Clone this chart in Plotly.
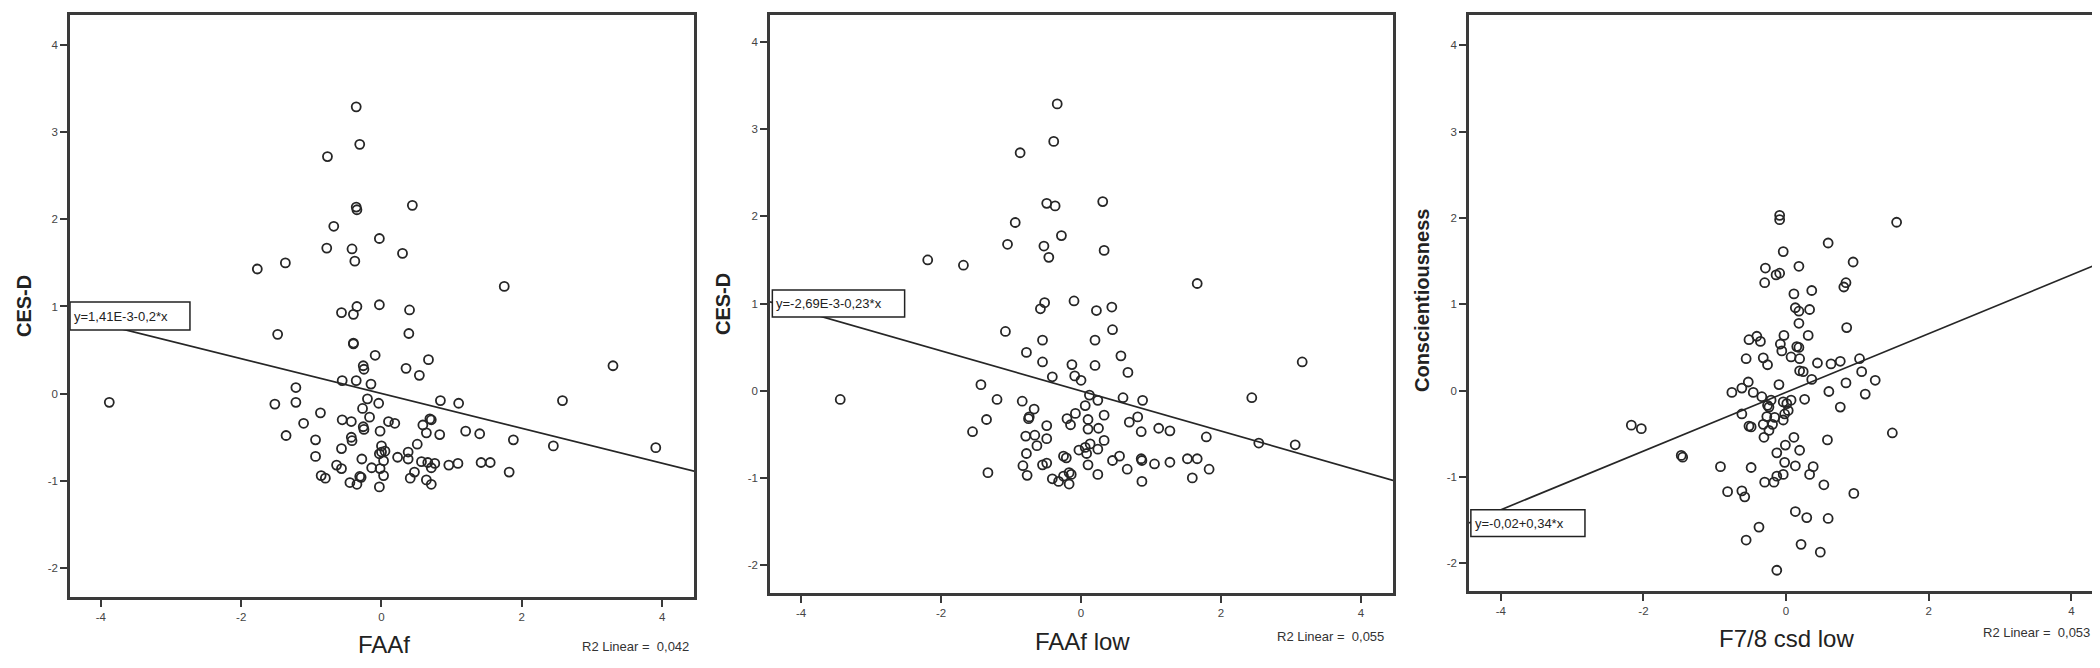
import plotly.graph_objects as go

# ---------------- data ----------------
faaf_x = [-0.36, -0.31, -0.77, -0.36, -0.35, 0.44, -0.68, -0.03, -0.78, -0.42, 0.30, -0.38, -1.77, -1.37,
          1.75, -0.35, -0.03, -0.57, -0.40, 0.40, -1.48, 0.39, -0.40, -0.40, -0.09, 0.67, -0.26, -0.25,
          0.35, 0.54, 3.30, -0.56, -0.36, -0.15, -1.22, -3.88, -1.52, -1.22, -0.20, -0.04, 0.84, 1.10,
          2.58, -0.87, -0.27, -0.17, -1.11, -0.56, -0.43, 0.10, 0.19, 0.69, 0.71, -0.26, -0.25, -0.02,
          0.59, 0.64, 0.83, 1.20, 1.40, -1.36, -0.94, -0.43, -0.42, 1.88, 2.45, 3.91, -0.57, 0.51,
          0.00, 0.00, -0.03, 0.05, -0.94, 0.23, 0.38, 0.38, -0.28, 0.03, 0.57, 0.66, 0.76, 0.71,
          1.09, 0.96, 1.42, 1.55, -0.64, -0.57, -0.14, -0.02, 1.82, 0.47, -0.86, -0.80, -0.31, -0.29,
          0.03, 0.41, -0.45, -0.35, 0.64, 0.71, -0.03]
faaf_y = [3.29, 2.86, 2.72, 2.14, 2.11, 2.16, 1.92, 1.78, 1.67, 1.66, 1.61, 1.52, 1.43, 1.50,
          1.23, 1.00, 1.02, 0.93, 0.91, 0.96, 0.68, 0.69, 0.58, 0.57, 0.44, 0.39, 0.32, 0.28,
          0.29, 0.21, 0.32, 0.15, 0.15, 0.11, 0.07, -0.10, -0.12, -0.10, -0.06, -0.11, -0.08, -0.11,
          -0.08, -0.22, -0.17, -0.27, -0.34, -0.30, -0.32, -0.32, -0.34, -0.29, -0.30, -0.38, -0.41, -0.43,
          -0.36, -0.45, -0.47, -0.43, -0.46, -0.48, -0.53, -0.50, -0.54, -0.53, -0.60, -0.62, -0.63, -0.58,
          -0.60, -0.67, -0.69, -0.66, -0.72, -0.73, -0.67, -0.75, -0.75, -0.77, -0.78, -0.79, -0.80, -0.85,
          -0.80, -0.82, -0.79, -0.79, -0.82, -0.86, -0.85, -0.86, -0.90, -0.90, -0.94, -0.97, -0.95, -0.96,
          -0.94, -0.97, -1.02, -1.04, -0.99, -1.04, -1.07]

faaflow_x = [-0.34, -0.39, -0.87, -0.49, -0.37, 0.31, -0.94, -0.28, -1.05, -0.53, 0.33, -0.46, -2.19, -1.68,
             1.66, -0.52, -0.10, -0.58, 0.22, 0.44, -1.08, 0.45, -0.55, 0.20, -0.78, 0.57, -0.55, -0.13,
             0.20, 0.67, 3.16, -0.41, -0.09, 0.00, -1.43, -3.44, -1.20, -0.84, 0.12, 0.24, 0.60, 0.88,
             2.44, -0.67, 0.06, -1.35, -0.74, -0.75, -0.20, -0.08, 0.10, 0.33, 0.81, 0.69, -0.49, -0.15,
             0.10, 0.25, 0.86, 1.11, 1.27, -1.55, -0.79, -0.66, -0.49, 1.79, 2.54, 3.06, -0.63, 0.13,
             0.33, -0.03, 0.06, 0.24, -0.78, 0.08, -0.25, -0.21, 0.45, 0.55, 0.86, 0.87, 1.05, 1.27,
             1.52, 1.66, -0.83, -0.55, -0.49, 0.10, 1.83, 0.66, -1.33, -0.77, -0.17, -0.14, 0.24, -0.41,
             -0.32, -0.25, -0.17, 0.87, 1.59]
faaflow_y = [3.29, 2.86, 2.73, 2.15, 2.12, 2.17, 1.93, 1.78, 1.68, 1.66, 1.61, 1.53, 1.50, 1.44,
             1.23, 1.01, 1.03, 0.94, 0.92, 0.96, 0.68, 0.70, 0.58, 0.58, 0.44, 0.40, 0.33, 0.30,
             0.29, 0.21, 0.33, 0.16, 0.17, 0.12, 0.07, -0.10, -0.10, -0.12, -0.05, -0.11, -0.08, -0.11,
             -0.08, -0.21, -0.17, -0.33, -0.30, -0.32, -0.32, -0.26, -0.33, -0.28, -0.30, -0.36, -0.40, -0.39,
             -0.44, -0.43, -0.47, -0.43, -0.46, -0.47, -0.52, -0.51, -0.55, -0.53, -0.60, -0.62, -0.63, -0.61,
             -0.57, -0.68, -0.65, -0.67, -0.72, -0.72, -0.75, -0.77, -0.80, -0.75, -0.78, -0.80, -0.84, -0.82,
             -0.78, -0.78, -0.86, -0.85, -0.83, -0.85, -0.90, -0.90, -0.94, -0.97, -0.94, -0.96, -0.96, -1.01,
             -1.04, -0.98, -1.07, -1.04, -1.00]

f78_x = [-0.09, -0.09, 1.55, 0.59, -0.04, 0.94, -0.29, 0.18, -0.14, -0.09, -0.30, 0.84, 0.81, 0.11,
         0.36, 0.13, 0.18, 0.33, 0.18, 0.85, -0.52, -0.41, -0.36, -0.03, 0.31, -0.08, 0.15, 0.18,
         -0.06, 0.07, 0.19, -0.56, -0.32, -0.26, 0.44, 0.63, 0.76, 1.03, 1.06, 0.19, 0.24, 0.36,
         1.25, -0.53, -0.62, -0.10, 0.84, -0.76, -0.46, 0.60, 1.11, -0.34, -0.21, -0.04, 0.07, 0.26,
         -0.26, -0.24, 0.01, 0.76, -0.62, -0.27, -0.16, -0.02, 0.03, -0.04, -0.32, -0.52, -0.49, -0.19,
         -0.24, -2.17, -2.03, 1.49, -0.31, 0.11, 0.58, -0.01, 0.19, -0.13, -1.47, -1.45, -0.02, 0.13,
         -0.92, -0.49, 0.38, 0.33, -0.04, -0.13, -0.30, -0.17, 0.53, -0.82, -0.62, -0.58, 0.95, 0.13,
         0.29, 0.59, -0.38, -0.56, 0.21, 0.48, -0.13]
f78_y = [2.03, 1.98, 1.95, 1.71, 1.61, 1.49, 1.42, 1.44, 1.34, 1.36, 1.25, 1.25, 1.20, 1.12,
         1.16, 0.96, 0.92, 0.94, 0.78, 0.73, 0.59, 0.63, 0.57, 0.64, 0.64, 0.54, 0.51, 0.50,
         0.46, 0.39, 0.37, 0.37, 0.38, 0.30, 0.32, 0.31, 0.34, 0.37, 0.22, 0.23, 0.22, 0.13,
         0.12, 0.10, 0.03, 0.07, 0.09, -0.02, -0.02, -0.01, -0.04, -0.07, -0.11, -0.13, -0.11, -0.10,
         -0.17, -0.19, -0.15, -0.19, -0.27, -0.30, -0.31, -0.27, -0.23, -0.34, -0.39, -0.41, -0.42, -0.39,
         -0.46, -0.40, -0.44, -0.49, -0.54, -0.54, -0.57, -0.63, -0.69, -0.72, -0.75, -0.77, -0.83, -0.87,
         -0.88, -0.89, -0.88, -0.97, -0.97, -0.99, -1.06, -1.06, -1.09, -1.17, -1.16, -1.23, -1.19, -1.40,
         -1.47, -1.48, -1.58, -1.73, -1.78, -1.87, -2.08]

x_titles = ["FAAf", "FAAf low", "F7/8 csd low"]
y_titles = ["CES-D", "CES-D", "Conscientiousness"]
fit_intercepts = [0.00141, -0.00269, -0.02]
fit_slopes = [-0.2, -0.23, 0.34]
equations = ["y=1,41E-3-0,2*x", "y=-2,69E-3-0,23*x", "y=-0,02+0,34*x"]
r2_values = ["0,042", "0,055", "0,053"]
x_ticks = [-4, -2, 0, 2, 4]
y_ticks = [-2, -1, 0, 1, 2, 3, 4]

# ---------------- layout geometry (pixels) ----------------
W, H = 2100, 668
ML, MR, MT, MB = 62, 3, 7, 79
PW, PH = W - ML - MR, H - MT - MB

def px(xp):
    return (xp - ML) / PW

def py(yp):
    return (H - MB - yp) / PH

panels = [
    dict(xd=(62, 687), yd=(7, 589), xr=(-4.44, 4.456), yr=(-2.333, 4.344),
         ytitle=(16, 298), xtitle=(376, 636), r2=(684, 638), box=((-4.44, -2.73), (0.73, 1.05))),
    dict(xd=(763, 1387), yd=(7, 585), xr=(-4.444, 4.458), yr=(-2.32, 4.31),
         ytitle=(716, 296), xtitle=(1076, 633), r2=(1380, 628), box=((-4.41, -2.52), (0.845, 1.155))),
    dict(xd=(1463, 2097), yd=(7, 583), xr=(-4.447, 4.43), yr=(-2.32, 4.35),
         ytitle=(1416, 293), xtitle=(1781, 630), r2=(2087, 624), box=((-4.42, -2.82), (-1.69, -1.38))),
]

data_x = [faaf_x, faaflow_x, f78_x]
data_y = [faaf_y, faaflow_y, f78_y]

fig = go.Figure()
INK = "#262626"
NARROW = "Liberation Sans Narrow, Liberation Sans, Arial Narrow, Arial, sans-serif"
shapes = []
annotations = []

for i, p in enumerate(panels):
    xa = "x" if i == 0 else f"x{i+1}"
    ya = "y" if i == 0 else f"y{i+1}"
    # regression line across full x range
    x0, x1 = p["xr"]
    fig.add_trace(go.Scatter(
        x=[x0, x1],
        y=[fit_intercepts[i] + fit_slopes[i] * x0, fit_intercepts[i] + fit_slopes[i] * x1],
        mode="lines", line=dict(color=INK, width=1.7), xaxis=xa, yaxis=ya,
        showlegend=False, hoverinfo="skip"))
    fig.add_trace(go.Scatter(
        x=data_x[i], y=data_y[i], mode="markers",
        marker=dict(symbol="circle-open", size=9, color=INK, line=dict(width=1.8)),
        xaxis=xa, yaxis=ya, showlegend=False))

    axis_common = dict(showgrid=False, zeroline=False, showline=True, mirror=True,
                       linecolor="#3a3a3a", linewidth=2.5, ticks="outside", ticklen=7,
                       tickwidth=1.5, tickcolor="#3a3a3a",
                       tickfont=dict(family=NARROW, size=11.5, color="#444"))
    fig.update_layout(**{
        ("xaxis" if i == 0 else f"xaxis{i+1}"): dict(
            domain=[px(p["xd"][0]), px(p["xd"][1])], range=list(p["xr"]),
            anchor=ya, tickvals=x_ticks, ticktext=[str(v) for v in x_ticks], **axis_common),
        ("yaxis" if i == 0 else f"yaxis{i+1}"): dict(
            domain=[py(p["yd"][1]), py(p["yd"][0])], range=list(p["yr"]),
            anchor=xa, tickvals=y_ticks, ticktext=[str(v) for v in y_ticks], **axis_common),
    })

    # equation box (drawn above the regression line)
    (bx0, bx1), (by0, by1) = p["box"]
    shapes.append(dict(type="rect", xref=xa, yref=ya, x0=bx0, x1=bx1, y0=by0, y1=by1,
                       fillcolor="white", line=dict(color="#222", width=1.5), layer="above"))
    annotations.append(dict(xref=xa, yref=ya, x=bx0 + 0.03, y=(by0 + by1) / 2,
                            text=equations[i], showarrow=False, xanchor="left", yanchor="middle",
                            font=dict(family=NARROW, size=13, color="#222")))
    # axis titles
    annotations.append(dict(xref="paper", yref="paper", x=px(p["ytitle"][0]), y=py(p["ytitle"][1]),
                            text=f"<b>{y_titles[i]}</b>", textangle=-90, showarrow=False,
                            xanchor="center", yanchor="middle",
                            font=dict(family="Liberation Sans, Arial, sans-serif", size=20, color="#222")))
    annotations.append(dict(xref="paper", yref="paper", x=px(p["xtitle"][0]), y=py(p["xtitle"][1]),
                            text=x_titles[i], showarrow=False, xanchor="center", yanchor="middle",
                            font=dict(family=NARROW, size=24, color="#222")))
    annotations.append(dict(xref="paper", yref="paper", x=px(p["r2"][0]), y=py(p["r2"][1]),
                            text=f"R2 Linear =  {r2_values[i]}", showarrow=False,
                            xanchor="right", yanchor="middle",
                            font=dict(family=NARROW, size=13, color="#333")))

fig.update_layout(width=W, height=H, margin=dict(l=ML, r=MR, t=MT, b=MB),
                  paper_bgcolor="white", plot_bgcolor="white",
                  shapes=shapes, annotations=annotations, showlegend=False)

fig.write_html("out.html")
